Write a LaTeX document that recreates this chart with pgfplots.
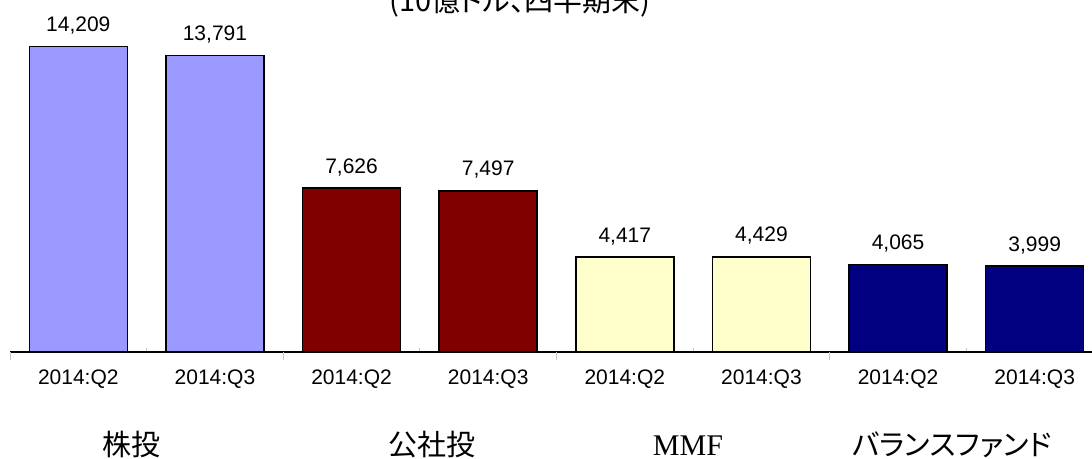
\documentclass[border=0pt]{standalone}
\usepackage{pgfplots}
\pgfplotsset{compat=1.18}
\usepackage{fontspec}
\setmainfont{Liberation Sans}
\newfontfamily\jpfont[RawFeature=+palt]{Noto Sans CJK JP}
\newfontfamily\serifont{Liberation Serif}
\definecolor{c1}{HTML}{9999FF}
\definecolor{c2}{HTML}{800000}
\definecolor{c3}{HTML}{FFFFCC}
\definecolor{c4}{HTML}{000080}
\begin{document}
\begin{tikzpicture}
\begin{axis}[
  at={(0,0)}, anchor=south west,
  scale only axis, width=546.5pt, height=176pt,
  xmin=-0.5, xmax=7.5, ymin=0, ymax=16383,
  axis y line=none, axis x line*=bottom,
  x axis line style={black, line width=0.6pt, -},
  ybar, bar width=49pt, bar shift=0pt,
  xtick={0,1,2,3,4,5,6,7},
  xticklabels={2014:Q2,2014:Q3,2014:Q2,2014:Q3,2014:Q2,2014:Q3,2014:Q2,2014:Q3},
  xticklabel style={anchor=base, yshift=-16.5pt, font=\fontsize{10.5}{12}\selectfont},
  major tick style={draw=none},
  minor xtick={0.5,2.5,4.5,6.5},
  minor tick length=2pt,
  minor tick style={draw=gray!45, line width=0.4pt},
  tick align=inside,
  extra x ticks={-0.5,1.5,3.5,5.5,7.5},
  extra x tick labels={},
  extra x tick style={major tick style={draw=gray!45, line width=0.4pt}, major tick length=4pt, tick align=outside},
  nodes near coords={\pgfmathprintnumber[1000 sep={,},fixed,precision=0,assume math mode=true]{\pgfplotspointmeta}},
  nodes near coords style={font=\fontsize{10.5}{12}\selectfont, anchor=base, yshift=7.5pt, text=black},
]
\addplot[fill=c1, draw=black, line width=0.75pt] coordinates {(0,14209) (1,13791)};
\addplot[fill=c2, draw=black, line width=0.75pt] coordinates {(2,7626) (3,7497)};
\addplot[fill=c3, draw=black, line width=0.75pt] coordinates {(4,4417) (5,4429)};
\addplot[fill=c4, draw=black, line width=0.75pt] coordinates {(6,4065) (7,3999)};
\end{axis}
\node[anchor=base, font=\jpfont\fontsize{14.5}{16}\selectfont] at (255pt,170pt) {(10億ドル、四半期末)};
\node[anchor=base, font=\jpfont\fontsize{14.5}{16}\selectfont] at (60.75pt,-52pt) {株投};
\node[anchor=base, font=\jpfont\fontsize{14.5}{16}\selectfont] at (211pt,-52pt) {公社投};
\node[anchor=base, font=\serifont\fontsize{15}{16}\selectfont] at (339pt,-52pt) {MMF};
\node[anchor=base, font=\jpfont\fontsize{14.5}{16}\selectfont] at (471pt,-52pt) {バランスファンド};
\pgfresetboundingbox
\useasboundingbox (-5pt,-53.5pt) rectangle (541pt,176pt);
\end{tikzpicture}
\end{document}
